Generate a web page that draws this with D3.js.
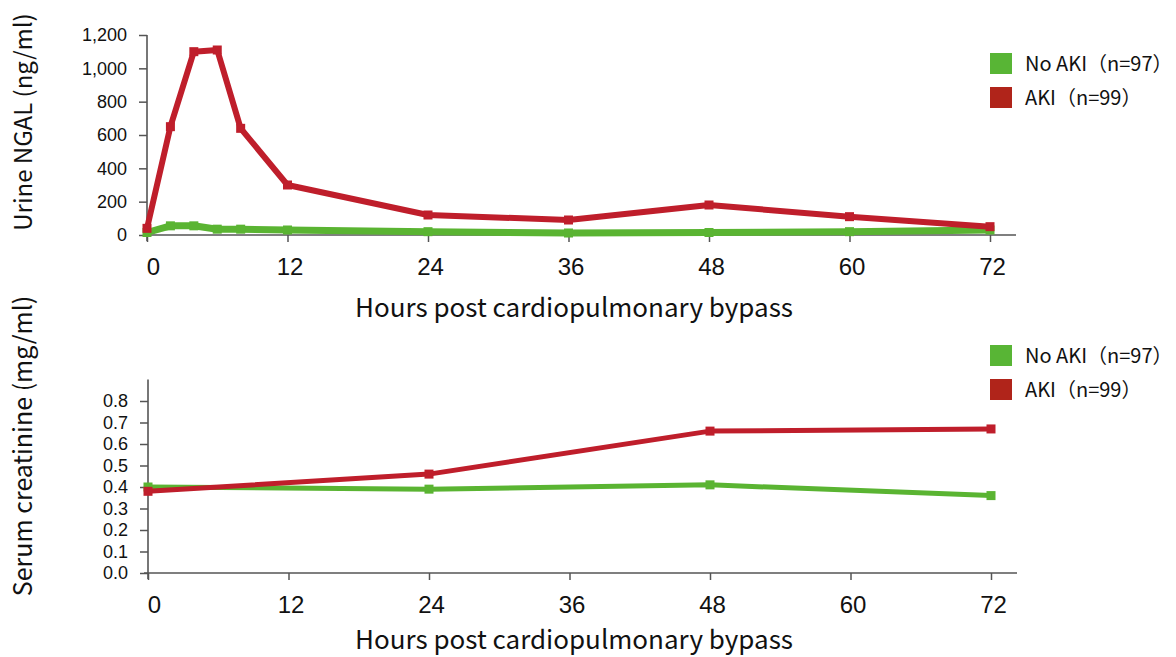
<!DOCTYPE html>
<html>
<head>
<meta charset="utf-8">
<script src="https://cdn.jsdelivr.net/npm/d3@7"></script>
<style>
  body { margin: 0; background: #fff; }
  svg { display: block; font-family: "Noto Sans CJK JP", "Noto Sans", sans-serif; }
</style>
</head>
<body>
<svg id="chart" width="1176" height="657"></svg>
<script>
// ---- data ----
const ngalHours = [0, 2, 4, 6, 8, 12, 24, 36, 48, 60, 72];
const ngalAKI   = [40, 650, 1100, 1110, 640, 300, 120, 90, 180, 110, 50];
const ngalNoAKI = [15, 55, 55, 35, 35, 30, 20, 12, 15, 20, 30];

const creatHours = [0, 24, 48, 72];
const creatAKI   = [0.38, 0.46, 0.66, 0.67];
const creatNoAKI = [0.40, 0.39, 0.41, 0.36];

const xTicks = [0, 12, 24, 36, 48, 60, 72];
const ngalTicks = [0, 200, 400, 600, 800, 1000, 1200];
const creatTicks = [0, 0.1, 0.2, 0.3, 0.4, 0.5, 0.6, 0.7, 0.8];

const legendLabels = ["No AKI（n=97）", "AKI（n=99）"];
const xTitle = "Hours post cardiopulmonary bypass";
const ngalTitle = "Urine NGAL (ng/ml)";
const creatTitle = "Serum creatinine (mg/ml)";

// ---- style ----
const RED = "#bf1e2b", GREEN = "#5ab432";
const LEG_RED = "#b0241a", LEG_GREEN = "#58b535";
const AXIS = "#555";

const svg = d3.select("#chart");

function panel(opts) {
  const g = svg.append("g");
  const x = d3.scaleLinear().domain([0, 72]).range(opts.xRange);
  const y = d3.scaleLinear().domain(opts.yDomain).range(opts.yRange);

  // axes
  const yAxis = d3.axisLeft(y).tickValues(opts.yTicks).tickFormat(opts.yFormat)
    .tickSize(8).tickSizeOuter(0).tickPadding(12);
  const ya = g.append("g").attr("transform", `translate(${x(0)},0)`).call(yAxis);
  ya.select(".domain").remove();
  ya.selectAll(".tick line").attr("stroke", AXIS).attr("stroke-width", 1.5);
  ya.selectAll(".tick text").attr("font-size", 18).attr("fill", "#111");

  const xAxis = d3.axisBottom(x).tickValues(xTicks).tickSize(7).tickSizeOuter(0).tickPadding(16);
  const xa = g.append("g").attr("transform", `translate(0,${y(0)})`).call(xAxis);
  xa.select(".domain").remove();
  xa.selectAll(".tick line").attr("stroke", AXIS).attr("stroke-width", 1.5);
  xa.selectAll(".tick text").attr("font-size", 24).attr("fill", "#111")
    .attr("dx", d => d === 0 ? 6 : 2);

  // axis lines
  g.append("line").attr("x1", x(0)).attr("x2", x(0))
    .attr("y1", y(opts.yDomain[1])).attr("y2", y(0) + 6)
    .attr("stroke", AXIS).attr("stroke-width", 1.6);
  g.append("line").attr("x1", x(0) - 4).attr("x2", x(72) + 26)
    .attr("y1", y(0)).attr("y2", y(0))
    .attr("stroke", AXIS).attr("stroke-width", 1.6);

  // lines
  const line = d3.line().x(d => x(d[0])).y(d => y(d[1]));
  const series = [
    { vals: opts.noAKI, color: GREEN, w: opts.gw },
    { vals: opts.aki, color: RED, w: opts.rw }
  ];
  series.forEach(s => {
    const pts = opts.hours.map((h, i) => [h, s.vals[i]]);
    g.append("path").datum(pts).attr("d", line)
      .attr("fill", "none").attr("stroke", s.color).attr("stroke-width", s.w)
      .attr("stroke-linejoin", "round").attr("stroke-linecap", "round");
    g.selectAll(null).data(pts).enter().append("rect")
      .attr("x", d => x(d[0]) - 4.5).attr("y", d => y(d[1]) - 4.5)
      .attr("width", 9).attr("height", 9).attr("fill", s.color);
  });

  // y title
  g.append("text")
    .attr("transform", `translate(32,${opts.yTitleY}) rotate(-90)`)
    .attr("text-anchor", "middle").attr("font-size", opts.yTitleSize).attr("fill", "#111")
    .text(opts.yTitle);

  // x title
  g.append("text").attr("x", 574).attr("y", opts.xTitleY)
    .attr("text-anchor", "middle").attr("font-size", 26).attr("fill", "#111")
    .text(xTitle);

  // legend
  const lg = g.append("g");
  [LEG_GREEN, LEG_RED].forEach((c, i) => {
    lg.append("rect").attr("x", 990).attr("y", opts.legendY + i * 34)
      .attr("width", 22).attr("height", 21).attr("fill", c);
    lg.append("text").attr("x", 1025).attr("y", opts.legendY + i * 34 + 18)
      .attr("font-size", 20).attr("fill", "#111").text(legendLabels[i]);
  });
}

panel({
  xRange: [147, 990], yDomain: [0, 1200], yRange: [235, 35],
  yTicks: ngalTicks, yFormat: d3.format(","),
  hours: ngalHours, aki: ngalAKI, noAKI: ngalNoAKI,
  rw: 6, gw: 7,
  yTitle: ngalTitle, yTitleSize: 24, yTitleY: 122, xTitleY: 317, legendY: 53
});

panel({
  xRange: [148, 991], yDomain: [0, 0.9], yRange: [573, 379.5],
  yTicks: creatTicks, yFormat: d3.format(".1f"),
  hours: creatHours, aki: creatAKI, noAKI: creatNoAKI,
  rw: 5, gw: 5,
  yTitle: creatTitle, yTitleSize: 25, yTitleY: 446, xTitleY: 649, legendY: 345
});
</script>
</body>
</html>
